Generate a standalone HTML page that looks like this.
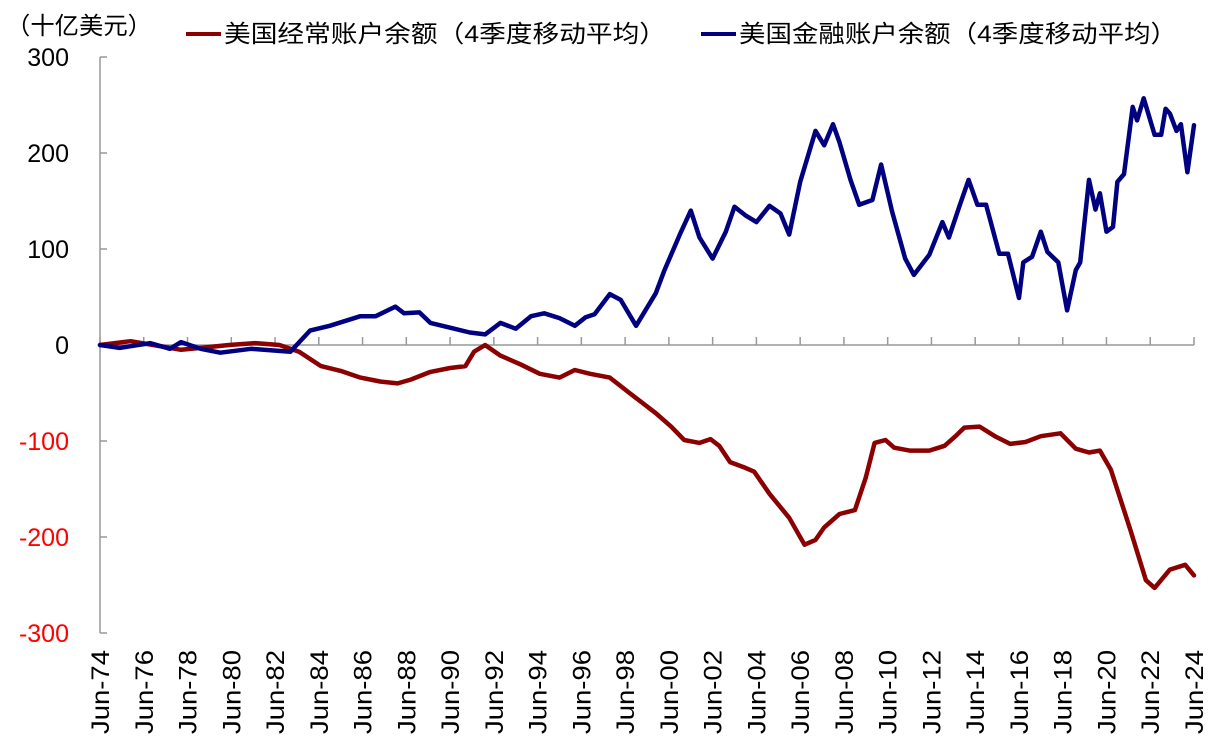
<!DOCTYPE html>
<html><head><meta charset="utf-8"><style>
body{margin:0;background:#fff;}
svg{font-family:"Liberation Sans","Noto Sans CJK SC",sans-serif;}
</style></head><body>
<svg id="chart" width="1212" height="747" xmlns="http://www.w3.org/2000/svg">
<text x="6" y="34" font-size="24" textLength="146" lengthAdjust="spacingAndGlyphs" fill="#000">（十亿美元）</text>
<g>
<line x1="186" y1="34" x2="221" y2="34" stroke="#8B0000" stroke-width="4"/>
<text x="224" y="42" font-size="24" textLength="442" lengthAdjust="spacingAndGlyphs">美国经常账户余额（4季度移动平均）</text>
<line x1="701" y1="34" x2="736" y2="34" stroke="#000080" stroke-width="4"/>
<text x="739" y="42" font-size="24" textLength="438" lengthAdjust="spacingAndGlyphs">美国金融账户余额（4季度移动平均）</text>
</g>
<g id="axes"></g>
<g id="series"></g>
</svg>
<script>
const yTicks=[300,200,100,0,-100,-200,-300];
const xTickYears=[74,76,78,80,82,84,86,88,90,92,94,96,98,0,2,4,6,8,10,12,14,16,18,20,22,24];
const blueT=[74.5,75.4,76.8,77.7,78.2,79.1,80.0,81.4,83.2,84.1,85.0,86.4,87.1,88.0,88.4,89.1,89.6,90.5,91.4,92.1,92.8,93.5,94.2,94.8,95.5,96.2,96.7,97.1,97.8,98.3,99.0,99.9,100.3,101.0,101.5,101.9,102.5,103.1,103.5,104.0,104.5,105.1,105.6,106.0,106.5,107.2,107.6,108.0,108.3,108.8,109.2,109.8,110.2,110.7,111.3,111.7,112.4,113.0,113.3,113.8,114.2,114.6,115.0,115.6,116.0,116.5,116.7,117.1,117.5,117.8,118.3,118.7,119.1,119.3,119.7,120.0,120.2,120.5,120.8,121.0,121.3,121.7,121.9,122.2,122.7,123.0,123.2,123.4,123.7,123.9,124.2,124.5];
const blueV=[0,-3,2,-4,3,-4,-8,-4,-7,15,20,30,30,40,33,34,23,18,13,11,23,17,30,33,28,20,29,32,53,47,20,54,78,115,140,112,90,118,144,135,128,145,137,115,170,223,208,230,211,172,146,151,188,139,90,73,94,128,112,146,172,146,146,95,95,49,86,92,118,97,86,36,78,86,172,141,158,118,123,170,178,248,234,257,219,219,246,241,223,230,180,229];
const redT=[74.5,75.9,77.2,78.2,79.1,80.4,81.6,82.7,83.6,84.6,85.5,86.4,87.3,88.1,88.7,89.6,90.5,91.2,91.6,92.1,92.8,93.7,94.6,95.5,96.2,96.9,97.8,98.7,99.9,100.6,101.2,101.9,102.4,102.8,103.3,104.0,104.4,105.1,106.0,106.7,107.2,107.6,108.3,109.0,109.5,109.9,110.4,110.8,111.5,112.4,113.1,113.6,114.0,114.7,115.4,116.1,116.8,117.5,118.4,119.1,119.7,120.2,120.7,121.6,122.3,122.7,123.4,124.1,124.5];
const redV=[0,4,-1,-5,-3,0,2,0,-7,-22,-27,-34,-38,-40,-36,-28,-24,-22,-7,0,-11,-20,-30,-34,-26,-30,-34,-50,-71,-85,-99,-102,-98,-105,-122,-128,-132,-155,-180,-208,-203,-190,-176,-172,-138,-102,-99,-107,-110,-110,-105,-95,-86,-85,-95,-103,-101,-95,-92,-108,-112,-110,-130,-193,-245,-253,-234,-229,-240];
const NS="http://www.w3.org/2000/svg";
const X0=100,X1=1194,T0=74.5,T1=124.5,Y0=345,PPU=0.96;
function xs(t){return X0+(t-T0)/(T1-T0)*(X1-X0);}
function ys(v){return Y0-v*PPU;}
function mk(tag,attrs,parent){const e=document.createElementNS(NS,tag);for(const k in attrs)e.setAttribute(k,attrs[k]);parent.appendChild(e);return e;}
const ax=document.getElementById('axes');
let yl=mk('line',{x1:X0,y1:ys(300),x2:X0,y2:ys(-300),stroke:'#999','stroke-width':1.5},ax);


yTicks.forEach(v=>{
 let t=mk('line',{x1:X0,y1:ys(v),x2:X0+7,y2:ys(v),stroke:'#999','stroke-width':1.5},ax);
 
 
 let l=mk('text',{x:69,y:ys(v)+9,'text-anchor':'end','font-size':25,fill:v<0?'#ff0000':'#000'},ax);
 l.textContent=v;
 
 
});
let xl=mk('line',{x1:X0,y1:Y0,x2:X1,y2:Y0,stroke:'#999','stroke-width':1.5},ax);


xTickYears.forEach(yy=>{
 const t=(yy<50?yy+100:yy)+0.5;const x=xs(t);
 let tk=mk('line',{x1:x,y1:Y0,x2:x,y2:Y0-8,stroke:'#999','stroke-width':1.5},ax);
 
 
 let l=mk('text',{x:0,y:0,'font-size':25,'text-anchor':'end',textLength:84,lengthAdjust:'spacingAndGlyphs',transform:`translate(${x+9},650) rotate(-90)`},ax);
 l.textContent='Jun-'+String(yy).padStart(2,'0');
 
 
});
const sg=document.getElementById('series');
function line(T,V,c,name){
 const d=T.map((t,i)=>(i?'L':'M')+xs(t).toFixed(1)+','+ys(V[i]).toFixed(1)).join('');
 let p=mk('path',{d:d,fill:'none',stroke:c,'stroke-width':4.5,'stroke-linejoin':'round','stroke-linecap':'round'},sg);
 
 
}
line(redT,redV,'#8B0000','current-account-line');
line(blueT,blueV,'#000080','financial-account-line');
</script>
</body></html>
